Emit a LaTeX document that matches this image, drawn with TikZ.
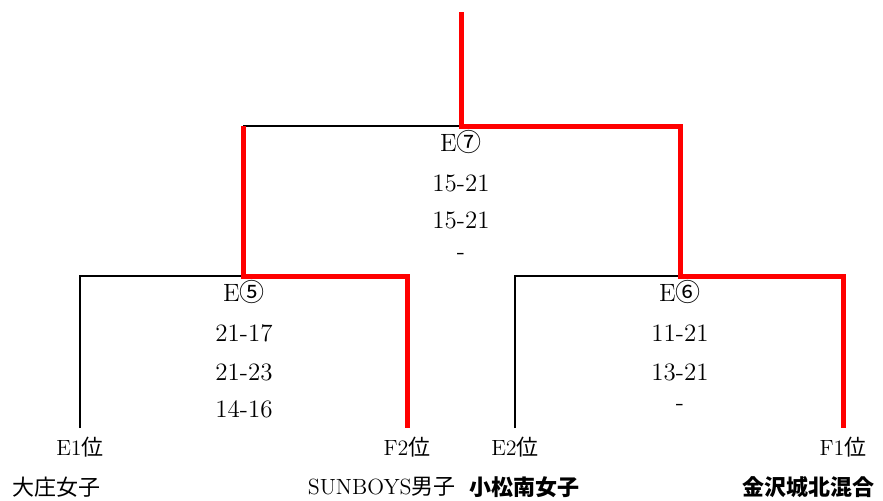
\documentclass[tikz,border=0pt]{standalone}
\usepackage{fontspec}
\newfontfamily\jp{Noto Sans CJK JP}
\usetikzlibrary{positioning}
\tikzset{win/.style={draw=red, line width=2.5pt},
lose/.style={draw=black, line width=1pt},
score/.style={font=\fontsize{12.5}{15}\selectfont, inner sep=1pt},
seed/.style={font=\fontsize{11}{13}\selectfont, inner sep=1pt}}

\begin{document}
\begin{tikzpicture}[x=0.5pt,y=-0.5pt]
 \useasboundingbox (0,0) rectangle (883,500);

 %Bracket corners
 \coordinate (top) at (461,12);
 \coordinate (f7) at (461,126);
 \coordinate (l7) at (243,126);
 \coordinate (r7) at (680,126);
 \coordinate (l5) at (80,276);
 \coordinate (c5) at (243,276);
 \coordinate (r5) at (407,276);
 \coordinate (l6) at (515,276);
 \coordinate (c6) at (680,276);
 \coordinate (r6) at (843,276);
 \coordinate (e1end) at (80,428);
 \coordinate (f2end) at (407,428);
 \coordinate (e2end) at (515,428);
 \coordinate (f1end) at (843,428);

 %Losing lines
 \draw[lose] (f7) -- (l7);
 \draw[lose] (e1end) -- (l5) -- (c5);
 \draw[lose] (e2end) -- (l6) -- (c6);

 %Winning path
 \draw[win] (top) -- (f7) -- (r7) -- (c6) -- (r6) -- (f1end);
 \draw[win] (l7) -- (c5) -- (r5) -- (f2end);

 %Match E7
 \node[score] (m7) at (461,142) {E{\jp ⑦}};
 \node[score] (s71) at (461,183) {15-21};
 \node[score] (s72) at (461,220) {15-21};
 \node[score] (s73) at (461,256) {-};

 %Match E5
 \node[score] (m5) at (244,292) {E{\jp ⑤}};
 \node[score] (s51) at (244,333) {21-17};
 \node[score] (s52) at (244,372) {21-23};
 \node[score] (s53) at (244,409) {14-16};

 %Match E6
 \node[score] (m6) at (680,292) {E{\jp ⑥}};
 \node[score] (s61) at (680,333) {11-21};
 \node[score] (s62) at (680,372) {13-21};
 \node[score] (s63) at (680,407) {-};

 %Seeds
 \node[seed] (e1) at (80,447) {E1{\jp 位}};
 \node[seed] (f2) at (407,447) {F2{\jp 位}};
 \node[seed] (e2) at (515,447) {E2{\jp 位}};
 \node[seed] (f1) at (843,447) {F1{\jp 位}};

 %Teams
 \node[seed, anchor=west] (team1) at (10,487) {\jp 大庄女子};
 \node[seed, anchor=east] (team2) at (458,487) {SUNBOYS{\jp 男子}};
 \node[seed, anchor=west] (team3) at (467,487) {\jp\bfseries 小松南女子};
 \node[seed, anchor=east] (team4) at (877,487) {\jp\bfseries 金沢城北混合};
\end{tikzpicture}
\end{document}
